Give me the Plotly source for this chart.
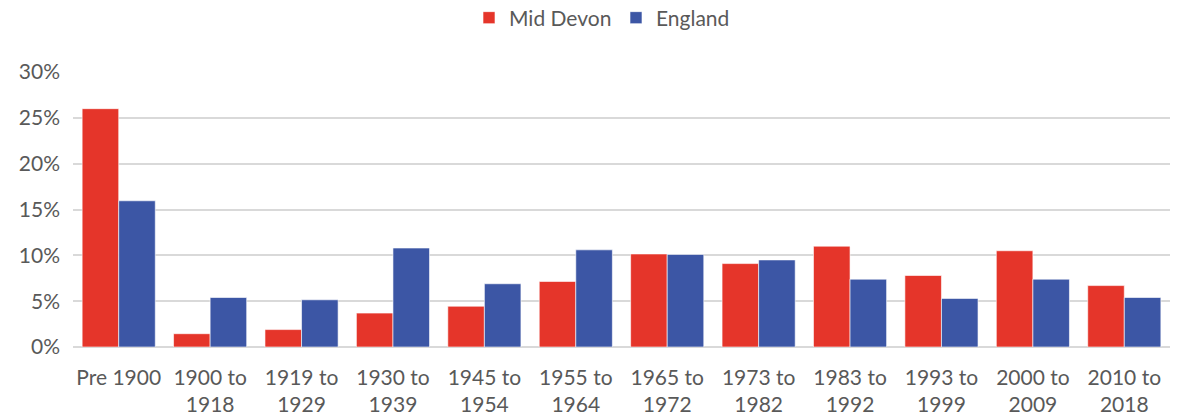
import plotly.graph_objects as go

categories = ["Pre 1900", "1900 to<br>1918", "1919 to<br>1929", "1930 to<br>1939", "1945 to<br>1954",
              "1955 to<br>1964", "1965 to<br>1972", "1973 to<br>1982", "1983 to<br>1992",
              "1993 to<br>1999", "2000 to<br>2009", "2010 to<br>2018"]
mid_devon = [26.0, 1.45, 1.9, 3.7, 4.45, 7.15, 10.15, 9.1, 11.0, 7.8, 10.5, 6.7]
england = [15.95, 5.4, 5.15, 10.8, 6.9, 10.6, 10.1, 9.5, 7.4, 5.3, 7.4, 5.4]

RED = "#E5352A"
BLUE = "#3C56A5"
TXT = "#595959"

fig = go.Figure()
fig.add_trace(go.Bar(name="Mid Devon", x=categories, y=mid_devon, marker_color=RED,
                     marker_line=dict(color="rgba(255,255,255,0.6)", width=1)))
fig.add_trace(go.Bar(name="England", x=categories, y=england, marker_color=BLUE,
                     marker_line=dict(color="rgba(255,255,255,0.6)", width=1)))

fig.update_layout(
    width=1179, height=419,
    barmode="group", bargap=0.2, bargroupgap=0,
    plot_bgcolor="white", paper_bgcolor="white",
    margin=dict(l=73, r=9, t=72, b=72, autoexpand=False),
    font=dict(family="Lato, Open Sans, sans-serif", size=21, color=TXT),
    legend=dict(orientation="h", x=616 / 1179, xanchor="center", xref="container",
                y=(419 - 18) / 419, yanchor="middle", yref="container",
                font=dict(size=21, color=TXT), traceorder="normal",
                entrywidth=102, entrywidthmode="pixels"),
    showlegend=True,
)
fig.update_yaxes(range=[0, 30], dtick=5, ticksuffix="%", showgrid=True, gridcolor="#D9D9D9",
                 gridwidth=1.5, zeroline=True, zerolinecolor="#D9D9D9", zerolinewidth=1.5,
                 tickfont=dict(size=21, color=TXT), ticks="", fixedrange=True,
                 automargin=False, ticklabelstandoff=12)
fig.update_xaxes(showline=False, ticks="", tickfont=dict(size=21, color=TXT),
                 automargin=False, ticklabelstandoff=16)

fig.write_html("out.html", post_script="document.body.style.margin='0';",
               config={"displayModeBar": False})
